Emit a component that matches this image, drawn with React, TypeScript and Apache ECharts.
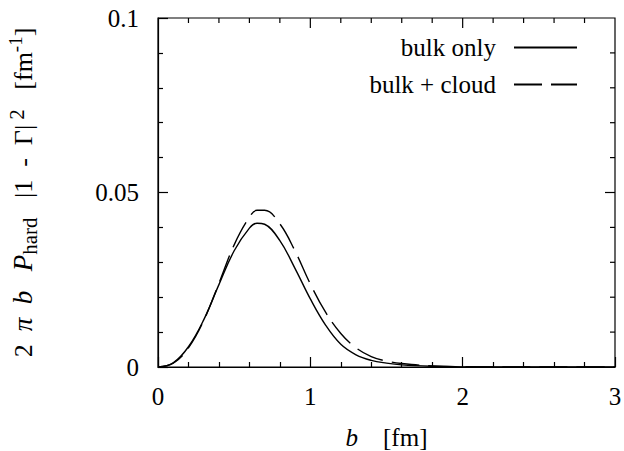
import React, { useEffect, useRef } from "react";
import * as echarts from "echarts";

const bValues = [0, 0.1, 0.2, 0.3, 0.4, 0.5, 0.6, 0.65, 0.7, 0.8, 0.9, 1.0, 1.1, 1.2, 1.3, 1.4, 1.5, 1.6, 1.8, 2.0, 2.5, 3.0];
const bulkOnly = [0, 0.0012, 0.0058, 0.0135, 0.0236, 0.0333, 0.0398, 0.0412, 0.0409, 0.0362, 0.0282, 0.0195, 0.0120, 0.0065, 0.0035, 0.0019, 0.0011, 0.0006, 0.0002, 0.00005, 0, 0];
const bulkCloud = [0, 0.0011, 0.0055, 0.0133, 0.024, 0.035, 0.0429, 0.0449, 0.0449, 0.0410, 0.0332, 0.0238, 0.0157, 0.0096, 0.0055, 0.003, 0.0017, 0.001, 0.0003, 0.0001, 0, 0];
const seriesNames = ["bulk only", "bulk + cloud"];

// mirror ticks for the top and right frame edges
const xMajorTicks = [1, 2];
const xMinorTicks = [0.2, 0.4, 0.6, 0.8, 1.2, 1.4, 1.6, 1.8, 2.2, 2.4, 2.6, 2.8];
const yMajorTicks = [0.05];
const yMinorTicks = [0.01, 0.02, 0.03, 0.04, 0.06, 0.07, 0.08, 0.09];

const FONT = "Liberation Serif";
const FS = 25;
const W = 624;
const H = 451;

export default function App() {
  const ref = useRef<HTMLDivElement>(null);
  useEffect(() => {
    if (!ref.current) return;
    const chart = echarts.init(ref.current, null, { renderer: "svg" });
    chart.setOption({
      animation: false,
      backgroundColor: "#fff",
      grid: {
        left: 158, top: 18, right: 9, bottom: 84,
        containLabel: false, outerBoundsMode: "none",
        show: true, borderColor: "#000", borderWidth: 1.2, backgroundColor: "transparent",
      },
      legend: {
        data: seriesNames,
        orient: "vertical",
        align: "right",
        right: 41,
        top: 30,
        itemWidth: 63,
        itemHeight: 14,
        itemGap: 12,
        itemStyle: { color: "transparent", borderWidth: 0, opacity: 0 },
        textStyle: { fontFamily: FONT, fontSize: FS, color: "#000", padding: [0, 13, 0, 0] },
      },
      xAxis: {
        type: "value", min: 0, max: 3, interval: 1,
        position: "bottom",
        axisLine: { show: true, onZero: false, lineStyle: { color: "#000", width: 1.2 } },
        axisTick: { show: true, inside: true, length: 10, lineStyle: { color: "#000", width: 1.2 } },
        minorTick: { show: true, splitNumber: 5, length: 5, lineStyle: { color: "#000", width: 1.2 } },
        splitLine: { show: false },
        minorSplitLine: { show: false },
        axisLabel: { show: true, fontFamily: FONT, fontSize: FS, color: "#000", margin: 17 },
        name: "{i|b}{n|    [fm]}",
        nameLocation: "middle",
        nameGap: 58,
        nameTextStyle: {
          rich: {
            i: { fontFamily: FONT, fontSize: FS, fontStyle: "italic", color: "#000" },
            n: { fontFamily: FONT, fontSize: FS, color: "#000" },
          },
        },
      },
      yAxis: {
        type: "value", min: 0, max: 0.1, interval: 0.05,
        position: "left",
        axisLine: { show: true, onZero: false, lineStyle: { color: "#000", width: 1.2 } },
        axisTick: { show: true, inside: true, length: 10, lineStyle: { color: "#000", width: 1.2 } },
        minorTick: { show: true, splitNumber: 5, length: 5, lineStyle: { color: "#000", width: 1.2 } },
        splitLine: { show: false },
        minorSplitLine: { show: false },
        axisLabel: { show: true, fontFamily: FONT, fontSize: FS, color: "#000", margin: 19 },
        name: "{n|2  }{i|π  b}{n|   }{i|P}{s|hard}{n|   |1  -  Γ|}{p| 2}{n|   [fm}{q|-1}{n|]}",
        nameLocation: "middle",
        nameRotate: 90,
        nameGap: 118,
        nameTextStyle: {
          rich: {
            n: { fontFamily: FONT, fontSize: 26, color: "#000", lineHeight: 34, verticalAlign: "middle" },
            i: { fontFamily: FONT, fontSize: 27, fontStyle: "italic", color: "#000", lineHeight: 34, verticalAlign: "middle" },
            s: { fontFamily: FONT, fontSize: 21, color: "#000", lineHeight: 20, verticalAlign: "bottom" },
            p: { fontFamily: FONT, fontSize: 21, color: "#000", lineHeight: 20, verticalAlign: "top" },
            q: { fontFamily: FONT, fontSize: 19, color: "#000", lineHeight: 18, verticalAlign: "top" },
          },
        },
      },
      series: [
        {
          name: seriesNames[0],
          type: "line",
          data: bValues.map((b, i) => [b, bulkOnly[i]]),
          smooth: 0.4,
          symbol: "none",
          lineStyle: { color: "#000", width: 1.4, type: "solid" },
          itemStyle: { color: "#000" },
        },
        {
          name: seriesNames[1],
          type: "line",
          data: bValues.map((b, i) => [b, bulkCloud[i]]),
          smooth: 0.4,
          symbol: "none",
          lineStyle: { color: "#000", width: 1.4, type: [28, 9] },
          itemStyle: { color: "#000" },
        },
      ],
    });

    // mirror ticks on the top and right edges, positioned through the axis scales
    const top = chart.convertToPixel({ yAxisIndex: 0 }, 0.1) as number;
    const right = chart.convertToPixel({ xAxisIndex: 0 }, 3) as number;
    const tickStyle = { stroke: "#000", lineWidth: 1.2 };
    const elems: any[] = [];
    const addX = (v: number, len: number) => {
      const px = chart.convertToPixel({ xAxisIndex: 0 }, v) as number;
      elems.push({ type: "line", silent: true, shape: { x1: px, y1: top, x2: px, y2: top + len }, style: tickStyle });
    };
    const addY = (v: number, len: number) => {
      const py = chart.convertToPixel({ yAxisIndex: 0 }, v) as number;
      elems.push({ type: "line", silent: true, shape: { x1: right, y1: py, x2: right - len, y2: py }, style: tickStyle });
    };
    xMajorTicks.forEach((v) => addX(v, 10));
    xMinorTicks.forEach((v) => addX(v, 5));
    yMajorTicks.forEach((v) => addY(v, 10));
    yMinorTicks.forEach((v) => addY(v, 5));
    chart.setOption({ graphic: elems });

    return () => chart.dispose();
  }, []);
  return <div ref={ref} style={{ width: W, height: H, position: "absolute", left: 0, top: 0 }} />;
}
